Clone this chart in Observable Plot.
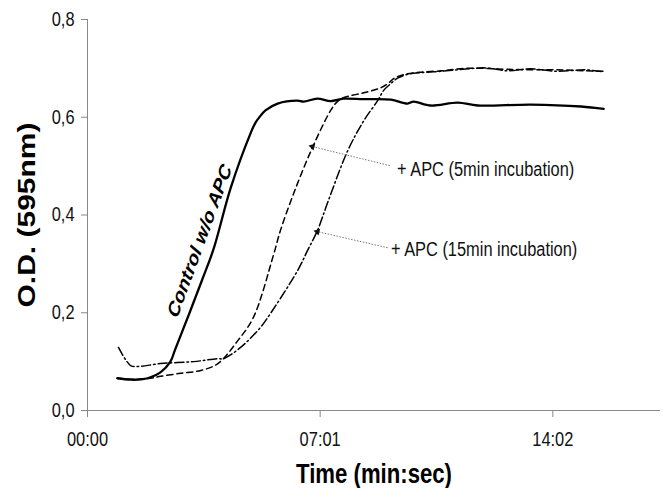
<!DOCTYPE html>
<html>
<head>
<meta charset="utf-8">
<script src="https://cdn.jsdelivr.net/npm/d3@7"></script>
<script src="https://cdn.jsdelivr.net/npm/@observablehq/plot@0.6"></script>
<style>
  html, body { margin: 0; padding: 0; background: #fff; }
  #chart svg { display: block; }
</style>
</head>
<body>
<div id="chart"></div>
<script>
// time in seconds, optical density at 595 nm
const controlTime = [54, 78, 100, 114, 132, 150, 158, 184, 207, 228, 259, 295, 304, 311, 322, 344, 380, 391, 416, 440, 463, 500, 549, 579, 590, 621, 670, 706, 802, 893, 934];
const controlOD   = [0.066, 0.063, 0.064, 0.068, 0.078, 0.100, 0.123, 0.198, 0.266, 0.330, 0.455, 0.567, 0.589, 0.600, 0.614, 0.628, 0.634, 0.632, 0.638, 0.633, 0.638, 0.637, 0.636, 0.628, 0.632, 0.624, 0.630, 0.624, 0.626, 0.622, 0.617];

const apc5Time = [54, 80, 114, 132, 168, 205, 236, 272, 300, 337, 349, 373, 407, 440, 452, 463, 500, 530, 545, 555, 575, 600, 640, 680, 720, 760, 800, 850, 900, 934];
const apc5OD   = [0.066, 0.064, 0.066, 0.070, 0.076, 0.082, 0.096, 0.143, 0.190, 0.320, 0.368, 0.444, 0.538, 0.614, 0.632, 0.640, 0.650, 0.660, 0.670, 0.680, 0.688, 0.692, 0.695, 0.700, 0.700, 0.698, 0.697, 0.697, 0.695, 0.694];

const apc15Time = [56, 78, 91, 132, 192, 235, 246, 277, 313, 326, 380, 398, 416, 436, 471, 500, 525, 536, 548, 561, 580, 600, 640, 680, 720, 760, 800, 850, 900, 934];
const apc15OD   = [0.129, 0.092, 0.090, 0.096, 0.100, 0.106, 0.106, 0.129, 0.170, 0.190, 0.286, 0.327, 0.368, 0.430, 0.532, 0.593, 0.634, 0.655, 0.668, 0.680, 0.688, 0.691, 0.694, 0.698, 0.701, 0.695, 0.699, 0.694, 0.697, 0.693];

const xTicks = [0, 421, 842];
const yTicks = [0, 0.2, 0.4, 0.6, 0.8];

// annotations: label anchor, arrow tail, arrow tip (data coordinates)
const annoText  = ["+ APC (5min incubation)", "+ APC (15min incubation)"];
const annoTextT = [560, 549];
const annoTextY = [0.493, 0.330];
const arrowT1 = [547, 543];
const arrowY1 = [0.501, 0.333];
const arrowT2 = [407, 416];
const arrowY2 = [0.540, 0.366];

const controlLabel = "Control w/o APC";
const controlLabelT = 203;
const controlLabelY = 0.347;

const toRows = (t, v) => t.map((d, i) => ({t: d, od: v[i]}));
const control = toRows(controlTime, controlOD);
const apc5 = toRows(apc5Time, apc5OD);
const apc15 = toRows(apc15Time, apc15OD);

const W = 663, H = 488, ML = 87, MR = 3, MT = 19, MB = 78;
const X_MAX = 1036.8, Y_MAX = 0.8;
const pxPerT = (W - ML - MR) / X_MAX, pxPerY = (H - MT - MB) / Y_MAX;
const annos = annoText.map((s, i) => {
  const dx = (arrowT2[i] - arrowT1[i]) * pxPerT, dy = -(arrowY2[i] - arrowY1[i]) * pxPerY;
  return {s, t: annoTextT[i], y: annoTextY[i], t1: arrowT1[i], y1: arrowY1[i], t2: arrowT2[i], y2: arrowY2[i],
          angle: Math.atan2(dx, -dy) * 180 / Math.PI};
});

const fmtTime = d => `${String(Math.floor(d / 60)).padStart(2, "0")}:${String(d % 60).padStart(2, "0")}`;
const fmtOD = d => d.toFixed(1).replace(".", ",");

const FONT = "'Liberation Sans', Arial, sans-serif";
const SQUEEZE = 0.82; // narrow face look

const chart = Plot.plot({
  width: W,
  height: H,
  marginLeft: ML,
  marginRight: MR,
  marginTop: MT,
  marginBottom: MB,
  style: {fontFamily: FONT, background: "#fff", color: "#000"},
  x: {domain: [0, X_MAX]},
  y: {domain: [0, Y_MAX]},
  marks: [
    Plot.ruleX([0], {stroke: "#888", strokeWidth: 1}),
    Plot.ruleY([0], {stroke: "#888", strokeWidth: 1}),
    Plot.axisY(yTicks, {tickFormat: fmtOD, tickSize: 6, tickPadding: 7, fontSize: 20, stroke: "#888", fill: "#111", label: null}),
    Plot.axisX(xTicks, {tickFormat: fmtTime, tickSize: 7, tickPadding: 14, fontSize: 20, stroke: "#888", fill: "#111", label: null}),
    Plot.line(apc15, {x: "t", y: "od", stroke: "#000", strokeWidth: 1.5, strokeDasharray: "9,3,1.6,3", curve: "catmull-rom"}),
    Plot.line(apc5, {x: "t", y: "od", stroke: "#000", strokeWidth: 1.5, strokeDasharray: "6,4", curve: "catmull-rom"}),
    Plot.line(control, {x: "t", y: "od", stroke: "#000", strokeWidth: 2.3, curve: "catmull-rom"}),
    Plot.link(annos, {x1: "t1", y1: "y1", x2: "t2", y2: "y2", stroke: "#777", strokeWidth: 1, strokeDasharray: "1.5,1.5"}),
    Plot.dot(annos, {x: "t2", y: "y2", symbol: "triangle", r: 2.6, fill: "#111", stroke: null, rotate: "angle"}),
    Plot.text(annos, {x: "t", y: "y", text: "s", textAnchor: "start", fontSize: 20, fill: "#111"}),
    Plot.text([controlLabel], {x: () => controlLabelT, y: () => controlLabelY, text: d => d, rotate: -66, fontSize: 21, fontWeight: "bold", fontStyle: "italic", fill: "#000"}),
    Plot.text(["O.D. (595nm)"], {frameAnchor: "left", dx: -60, rotate: -90, textAnchor: "middle", lineAnchor: "middle", text: d => d, fontSize: 30, fontWeight: "bold", fill: "#000"}),
    Plot.text(["Time (min:sec)"], {frameAnchor: "bottom", dy: 64, textAnchor: "middle", lineAnchor: "middle", text: d => d, fontSize: 27, fontWeight: "bold", fill: "#000"})
  ]
});
document.getElementById("chart").appendChild(chart);

// give all text the condensed look of the original figure
d3.select(chart).selectAll("text").each(function () {
  const tr = this.getAttribute("transform") || "";
  if (tr.includes("rotate(")) {
    this.setAttribute("transform", tr.replace("rotate(", `scale(${SQUEEZE},1) rotate(`));
  } else {
    const len = this.getComputedTextLength();
    if (len > 0) {
      this.setAttribute("textLength", (len * SQUEEZE).toFixed(1));
      this.setAttribute("lengthAdjust", "spacingAndGlyphs");
    }
  }
});
</script>
</body>
</html>
